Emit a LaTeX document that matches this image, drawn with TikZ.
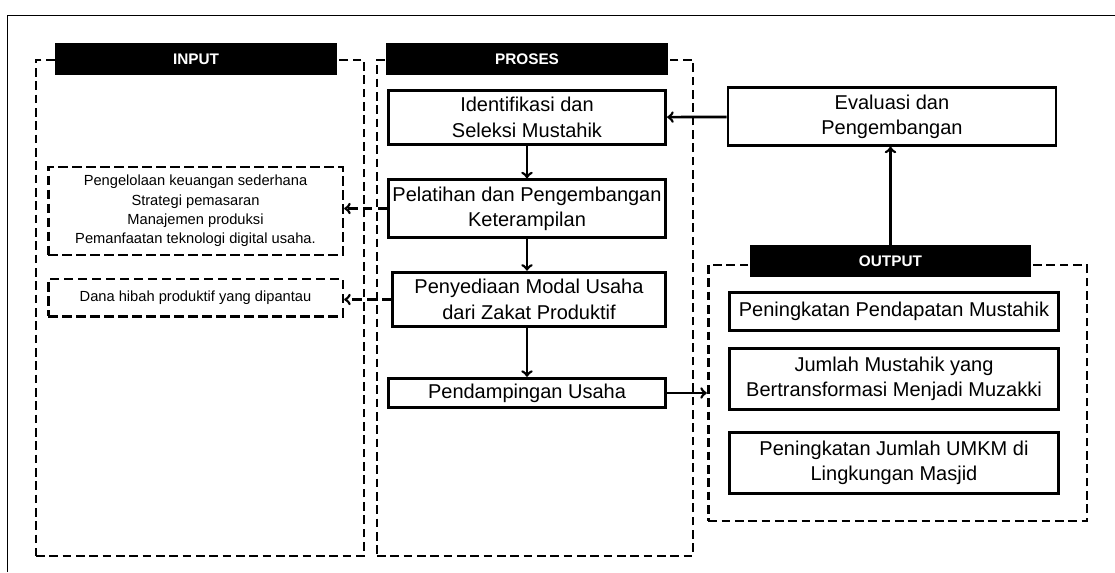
\documentclass[tikz,border=0pt]{standalone}
\usepackage{fontspec}
\setmainfont{Liberation Sans}
\usepackage{tikz}

\begin{document}
\begin{tikzpicture}[
		x=0.75pt, y=-0.75pt,
		every node/.style={rectangle, align=center, inner sep=0pt},
		frame/.style={draw, dashed, line width=2pt, dash pattern=on 6.5pt off 3.5pt},
		head/.style={fill=black, text=white, font=\bfseries\fontsize{11.5}{13}\selectfont, minimum width=211pt, minimum height=24pt},
		stepbox/.style={draw, line width=2.2pt, font=\fontsize{15}{19}\selectfont, minimum height=41pt},
		inbox/.style={draw, dashed, line width=2pt, dash pattern=on 7pt off 3.5pt, font=\fontsize{11}{14.5}\selectfont, minimum width=221pt},
		link/.style={->, line width=2pt}
	]
  \useasboundingbox (0,0) rectangle (1115,572);
  \draw [line width=0.7pt] (7,572) -- (7,15) -- (1115,15);

  % dashed columns
  \node (input) [frame, minimum width=246pt, minimum height=372pt] at (200,308) {};
  \node (proses) [frame, minimum width=237pt, minimum height=372pt] at (535,308) {};
  \node (output) [frame, minimum width=284pt, minimum height=192pt] at (897.5,393) {};
  \node (input_head) [head] at (196,59) {INPUT};
  \node (proses_head) [head] at (527,59) {PROSES};
  \node (output_head) [head] at (890.5,261) {OUTPUT};

  % proses
  \node (identifikasi) [stepbox, minimum width=208pt] at (527,117.5) {Identifikasi dan\\Seleksi Mustahik};
  \node (pelatihan) [stepbox, minimum width=208pt, minimum height=43pt] at (527,208.5) {Pelatihan dan Pengembangan\\Keterampilan};
  \node (modal) [stepbox, minimum width=205pt] at (529,299.5) {Penyediaan Modal Usaha\\dari Zakat Produktif};
  \node (pendampingan) [stepbox, minimum width=208pt, minimum height=22pt] at (527,393) {Pendampingan Usaha};
  \node (evaluasi) [stepbox, minimum width=246pt, minimum height=43pt] at (892,116.5) {Evaluasi dan\\Pengembangan};

  % output
  \node (pendapatan) [stepbox, minimum width=247pt, minimum height=28pt] at (894,311.5) {Peningkatan Pendapatan Mustahik};
  \node (muzakki) [stepbox, minimum width=247pt, minimum height=46pt] at (894,379) {Jumlah Mustahik yang\\Bertransformasi Menjadi Muzakki};
  \node (umkm) [stepbox, minimum width=247pt, minimum height=46pt] at (894,463) {Peningkatan Jumlah UMKM di\\Lingkungan Masjid};

  % input
  \node (materi) [inbox, minimum height=66pt] at (195.5,211) {Pengelolaan keuangan sederhana\\Strategi pemasaran\\Manajemen produksi\\Pemanfaatan teknologi digital usaha.};
  \node (hibah) [inbox, minimum height=28pt] at (195.5,297.5) {Dana hibah produktif yang dipantau};

  \draw [link] (identifikasi) -- (pelatihan);
  \draw [link] (pelatihan) -- (modal.north -| pelatihan.south);
  \draw [link] (modal.south -| pendampingan.north) -- (pendampingan);
  \draw [link] (evaluasi) -- (identifikasi);
  \draw [link] (output_head.north) -- (output_head.north |- evaluasi.south);
  \draw [link] (pendampingan) -- (pendampingan -| output.west);
  \draw [link, dash pattern=on 7pt off 4pt] (pelatihan.west) -- (pelatihan.west -| materi.east);
  \draw [link, dash pattern=on 7pt off 4pt] (modal.west) -- (modal.west -| hibah.east);
\end{tikzpicture}
\end{document}
